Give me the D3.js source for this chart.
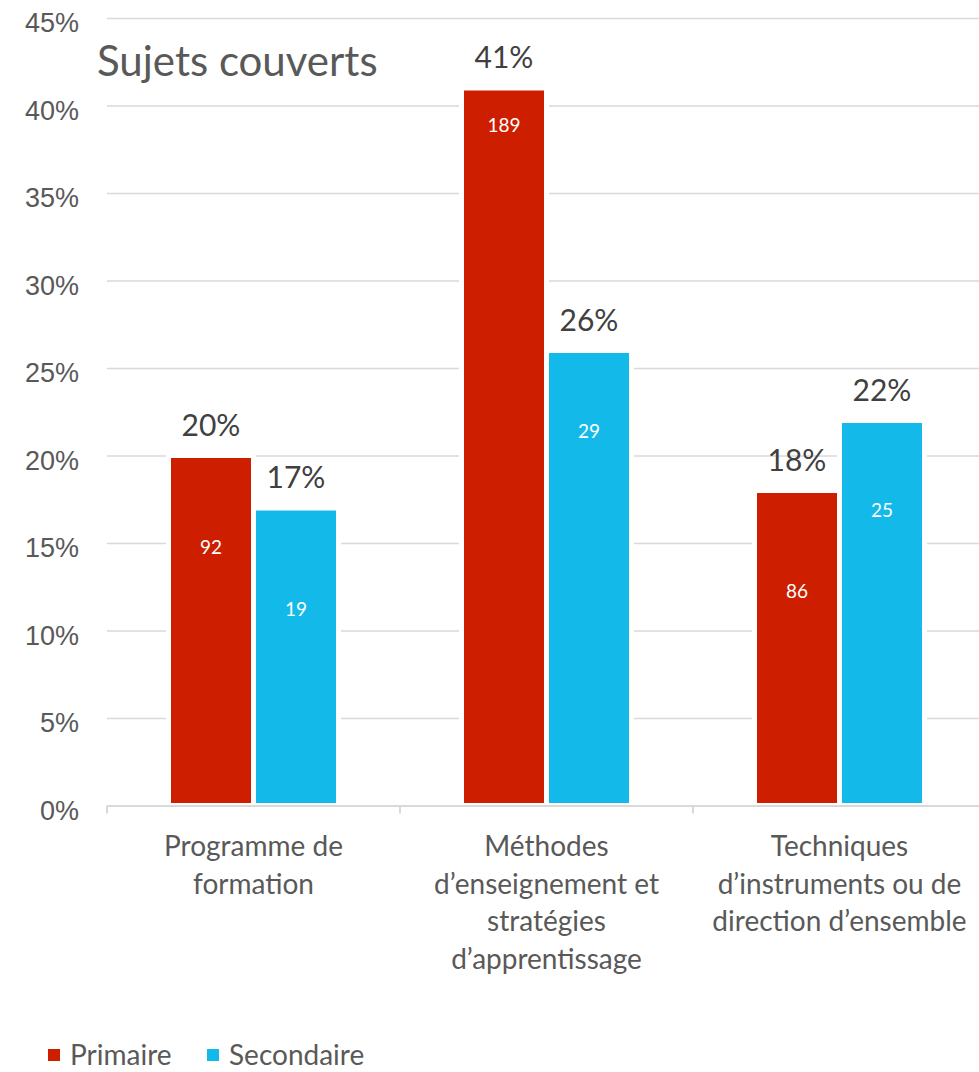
<!DOCTYPE html>
<html>
<head>
<meta charset="utf-8">
<script src="https://cdn.jsdelivr.net/npm/d3@7"></script>
<style>
  body { margin: 0; background: #fff; }
  svg { display: block; font-family: Lato, "Open Sans", sans-serif; }
</style>
</head>
<body>
<div id="chart"></div>
<script>
// chart data
var categories = ["Programme de formation", "Méthodes d’enseignement et stratégies d’apprentissage", "Techniques d’instruments ou de direction d’ensemble"];
var categoryLines = [
  ["Programme de", "formation"],
  ["Méthodes", "d’enseignement et", "stratégies", "d’apprentissage"],
  ["Techniques", "d’instruments ou de", "direction d’ensemble"]
];
var seriesNames = ["Primaire", "Secondaire"];
var primairePct = [20, 41, 18];
var secondairePct = [17, 26, 22];
var primaireCount = [92, 189, 86];
var secondaireCount = [19, 29, 25];
var yTicks = [0, 5, 10, 15, 20, 25, 30, 35, 40, 45];

var colors = {"Primaire": "#cd1f00", "Secondaire": "#13bae9"};

// where the count labels sit inside each bar (px below bar top), hand placed in the original
var countDy = [[96, 106], [42, 85], [105, 94]];

var svgWidth = 979, svgHeight = 1072;
var margin = {top: 18, left: 107};
var plotRight = 986, baseY = 805.5;

var svg = d3.select("#chart").append("svg")
  .attr("width", svgWidth)
  .attr("height", svgHeight);

svg.append("rect").attr("width", svgWidth).attr("height", svgHeight).attr("fill", "#fff");

var x0 = d3.scaleBand().domain(categories).range([margin.left, plotRight]).padding(0);
var barW = 85;
var x1 = d3.scaleBand().domain(seriesNames)
  .range([(x0.bandwidth() - 2 * barW) / 2, (x0.bandwidth() + 2 * barW) / 2]);
var y = d3.scaleLinear().domain([0, 45]).range([baseY, margin.top]);

// gridlines + y labels
var yAxis = d3.axisLeft(y)
  .tickValues(yTicks)
  .tickFormat(d => d + "%")
  .tickSize(-(plotRight - margin.left))
  .tickPadding(28);

var yg = svg.append("g")
  .attr("transform", `translate(${margin.left},0)`)
  .call(yAxis);
yg.select(".domain").remove();
yg.selectAll(".tick line").attr("stroke", "#d9d9d9").attr("stroke-width", 1.5);
yg.selectAll(".tick text")
  .attr("fill", "#595959")
  .attr("dy", "0.5em")
  .style("font-size", "27px");

// title
svg.append("text")
  .attr("x", 97)
  .attr("y", 76)
  .attr("fill", "#595959")
  .style("font-size", "42px")
  .text("Sujets couverts");

// build rows
var rows = categories.map(function(c, i) {
  return [
    {cat: c, series: "Primaire", pct: primairePct[i], count: primaireCount[i], dy: countDy[i][0]},
    {cat: c, series: "Secondaire", pct: secondairePct[i], count: secondaireCount[i], dy: countDy[i][1]}
  ];
});

var groups = svg.selectAll(".grp")
  .data(rows)
  .enter()
  .append("g")
  .attr("class", "grp")
  .attr("transform", d => `translate(${x0(d[0].cat)},0)`);

var items = groups.selectAll(".item")
  .data(d => d)
  .enter()
  .append("g");

items.append("rect")
  .attr("x", d => x1(d.series))
  .attr("y", d => y(d.pct))
  .attr("width", x1.bandwidth())
  .attr("height", d => y(0) - y(d.pct))
  .attr("fill", d => colors[d.series])
  .attr("stroke", "#fff")
  .attr("stroke-width", 5);

items.append("text")
  .attr("x", d => x1(d.series) + x1.bandwidth() / 2)
  .attr("y", d => y(d.pct) - 20)
  .attr("text-anchor", "middle")
  .attr("fill", "#404040")
  .style("font-size", "30px")
  .text(d => d.pct + "%");

items.append("text")
  .attr("x", d => x1(d.series) + x1.bandwidth() / 2)
  .attr("y", d => y(d.pct) + 2 + d.dy)
  .attr("text-anchor", "middle")
  .attr("fill", "#fff")
  .style("font-size", "19px")
  .text(d => d.count);

// x axis line and category ticks
svg.append("line")
  .attr("x1", margin.left).attr("x2", plotRight)
  .attr("y1", baseY + 0.5).attr("y2", baseY + 0.5)
  .attr("stroke", "#d9d9d9").attr("stroke-width", 2);

var bounds = categories.map(c => x0(c)).concat([plotRight]);
svg.selectAll(".xtick")
  .data(bounds)
  .enter()
  .append("line")
  .attr("x1", d => d).attr("x2", d => d)
  .attr("y1", baseY).attr("y2", baseY + 8)
  .attr("stroke", "#d9d9d9").attr("stroke-width", 2);

var catText = svg.selectAll(".cat")
  .data(categories)
  .enter()
  .append("text")
  .attr("text-anchor", "middle")
  .attr("fill", "#595959")
  .style("font-size", "28px");

catText.each(function(c, i) {
  var t = d3.select(this);
  categoryLines[i].forEach(function(line, j) {
    t.append("tspan")
      .attr("x", x0(c) + x0.bandwidth() / 2)
      .attr("y", 856 + j * 37.5)
      .text(line);
  });
});

// legend
var legendX = [48, 207];
var legend = svg.selectAll(".leg")
  .data(seriesNames)
  .enter()
  .append("g")
  .attr("transform", (d, i) => `translate(${legendX[i]},1049)`);

legend.append("rect")
  .attr("width", 12).attr("height", 12)
  .attr("fill", d => colors[d]);

legend.append("text")
  .attr("x", 22).attr("y", 16)
  .attr("fill", "#595959")
  .style("font-size", "28px")
  .text(d => d);
</script>
</body>
</html>
